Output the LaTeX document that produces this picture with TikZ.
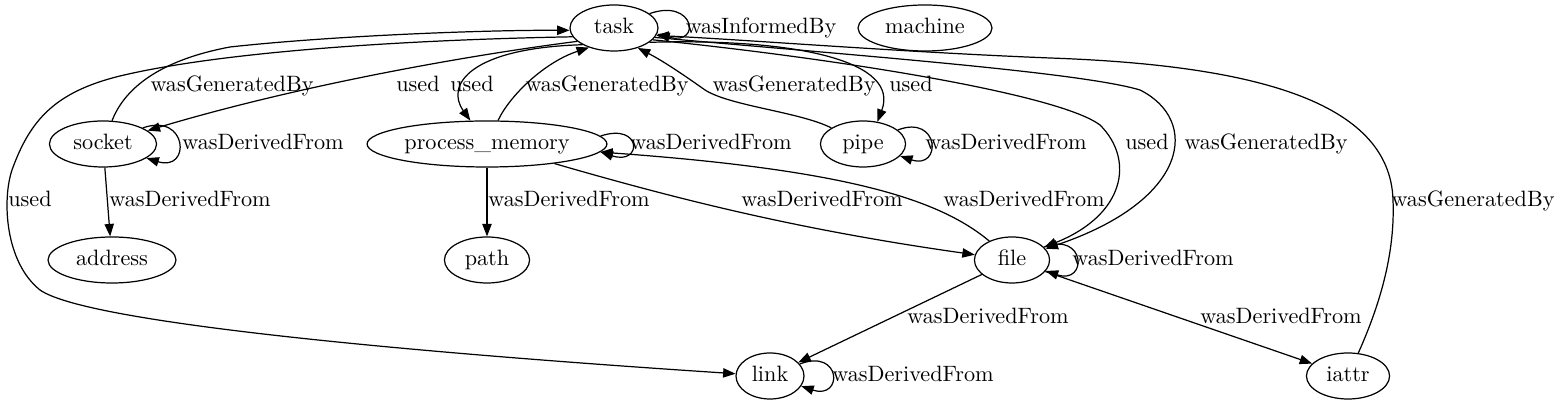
\documentclass[tikz,border=0pt]{standalone}
\usepackage{tikz}
\usetikzlibrary{shapes.geometric,arrows.meta}

\begin{document}
\begin{tikzpicture}[
  ent/.style={draw,ellipse,line width=0.55pt,inner sep=1pt,minimum height=20.7pt,
              text height=1.6ex,text depth=0.35ex},
  arr/.style={-{Triangle[length=5.6pt,width=4.2pt]},line width=0.55pt},
  lbl/.style={inner sep=0pt,text height=1.6ex,text depth=0.35ex},
  x=0.45pt, y=-0.45pt
]
\useasboundingbox (0,0) rectangle (1559,407);

% --- nodes ---
\node[ent,minimum width=39.6pt]  (task)    at (614,28)   {task};
\node[ent,minimum width=60.3pt]  (machine) at (925,28)   {machine};
\node[ent,minimum width=48.2pt]  (socket)  at (103,144)  {socket};
\node[ent,minimum width=105.8pt] (pm)      at (487,144)  {process\_memory};
\node[ent,minimum width=38.3pt]  (pipe)    at (863,144)  {pipe};
\node[ent,minimum width=57.6pt]  (address) at (112,260)  {address};
\node[ent,minimum width=38.3pt]  (path)    at (487,260)  {path};
\node[ent,minimum width=33.8pt]  (file)    at (1012,260) {file};
\node[ent,minimum width=30.6pt]  (link)    at (770,376)  {link};
\node[ent,minimum width=37.4pt]  (iattr)   at (1348,376) {iattr};

% --- edges of task ---
\draw[arr] (task.22) .. controls +(45,-16) and +(45,12) .. (task.-8);
\draw[arr] (socket) .. controls (122,95) and (150,62) .. (230,47)
  .. controls (330,36) and (480,30) .. (task.183);
\draw[arr] (task.192) .. controls (400,40) and (220,52) .. (120,76)
  .. controls (55,92) and (30,120) .. (12,170)
  .. controls (2,200) and (5,262) .. (40,290)
  .. controls (90,325) and (450,355) .. (link);
\draw[arr] (task.200) .. controls (470,55) and (300,85) .. (socket);
\draw[arr] (task.208) .. controls (470,48) and (445,85) .. (pm);
\draw[arr] (pm) .. controls (510,95) and (545,62) .. (task.218);
\draw[arr] (pipe) .. controls (800,112) and (730,106) .. (705,90)
  .. controls (688,78) and (665,62) .. (task.320);
\draw[arr] (task.-22) .. controls (800,38) and (900,62) .. (pipe.57);
\draw[arr] (task.-17) .. controls (850,60) and (1060,95) .. (1100,125)
  .. controls (1135,160) and (1125,215) .. (file);
\draw[arr] (task.-13) .. controls (850,55) and (1080,72) .. (1140,90)
  .. controls (1200,120) and (1190,200) .. (file);
\draw[arr] (iattr) .. controls (1382,300) and (1395,250) .. (1393,200)
  .. controls (1390,100) and (1250,65) .. (1050,58)
  .. controls (900,52) and (750,40) .. (task.-10);

% --- wasDerivedFrom edges ---
\draw[arr] (socket.22) .. controls +(45,-16) and +(45,14) .. (socket.-18);
\draw[arr] (pm.4) .. controls +(42,-14) and +(42,14) .. (pm.-4);
\draw[arr] (pipe.22) .. controls +(42,-16) and +(42,14) .. (pipe.-18);
\draw[arr] (file.22) .. controls +(42,-16) and +(42,14) .. (file.-18);
\draw[arr] (link.22) .. controls +(42,-16) and +(42,14) .. (link.-18);
\draw[arr] (socket) -- (address);
\draw[arr] (pm) -- (path);
\draw[arr] (pm) .. controls (680,200) and (800,230) .. (file);
\draw[arr] (file) .. controls (940,200) and (850,170) .. (pm);
\draw[arr] (file) -- (link);
\draw[arr] (file) -- (iattr);

% --- labels ---
\node[lbl] (l-inf)   at (761,28)   {wasInformedBy};
\node[lbl] (l-sgen)  at (232,86)   {wasGeneratedBy};
\node[lbl] (l-sused) at (418,86)   {used};
\node[lbl] (l-mused) at (472,86)   {used};
\node[lbl] (l-mgen)  at (607,86)   {wasGeneratedBy};
\node[lbl] (l-pgen)  at (794,86)   {wasGeneratedBy};
\node[lbl] (l-pused) at (911,86)   {used};
\node[lbl] (l-sder)  at (263,144)  {wasDerivedFrom};
\node[lbl] (l-mder)  at (711,144)  {wasDerivedFrom};
\node[lbl] (l-pder)  at (1006,144) {wasDerivedFrom};
\node[lbl] (l-fused) at (1147,144) {used};
\node[lbl] (l-fgen)  at (1266,144) {wasGeneratedBy};
\node[lbl] (l-lused) at (30,201)   {used};
\node[lbl] (l-ader)  at (190,201)  {wasDerivedFrom};
\node[lbl] (l-pthd)  at (569,201)  {wasDerivedFrom};
\node[lbl] (l-mfder) at (822,201)  {wasDerivedFrom};
\node[lbl] (l-fmder) at (1024,201) {wasDerivedFrom};
\node[lbl] (l-igen)  at (1473,201) {wasGeneratedBy};
\node[lbl] (l-fder)  at (1153,260) {wasDerivedFrom};
\node[lbl] (l-flder) at (988,318)  {wasDerivedFrom};
\node[lbl] (l-fider) at (1281,318) {wasDerivedFrom};
\node[lbl] (l-lder)  at (913,376)  {wasDerivedFrom};
\end{tikzpicture}
\end{document}
